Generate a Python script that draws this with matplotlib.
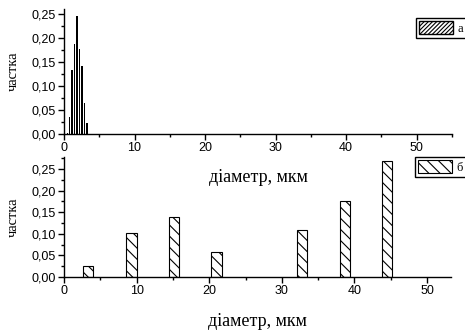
import matplotlib
matplotlib.use("Agg")
import matplotlib.pyplot as plt
from matplotlib.patches import Patch
from matplotlib.ticker import MultipleLocator, FuncFormatter

# розподіл частинок за діаметром
d_a = [0.45, 0.8, 1.15, 1.5, 1.85, 2.2, 2.55, 2.9, 3.25]
p_a = [0.003, 0.036, 0.133, 0.188, 0.246, 0.176, 0.141, 0.064, 0.023]

d_b = [3.3, 9.3, 15.2, 21.0, 32.8, 38.7, 44.5]
p_b = [0.025, 0.103, 0.139, 0.057, 0.108, 0.176, 0.268]

xlabel = "діаметр, мкм"
ylabel = "частка"

plt.rcParams['hatch.linewidth'] = 0.8
serif = "Liberation Serif"
sans = "Liberation Sans"

W, H = 465, 332
fig = plt.figure(figsize=(W / 100, H / 100), dpi=100)

comma = FuncFormatter(lambda v, pos: f"{v:.2f}".replace(".", ","))


def style(ax):
    ax.set_facecolor("none")
    for s in ("top", "right"):
        ax.spines[s].set_visible(False)
    for s in ("left", "bottom"):
        ax.spines[s].set_linewidth(1.0)
    ax.xaxis.set_major_locator(MultipleLocator(10))
    ax.xaxis.set_minor_locator(MultipleLocator(5))
    ax.yaxis.set_major_locator(MultipleLocator(0.05))
    ax.yaxis.set_minor_locator(MultipleLocator(0.025))
    ax.yaxis.set_major_formatter(comma)
    ax.tick_params(which="major", direction="out", length=4, width=1, pad=2)
    ax.tick_params(which="minor", direction="out", length=2.5, width=1)
    for lab in ax.get_xticklabels() + ax.get_yticklabels():
        lab.set_fontfamily(sans)
        lab.set_fontsize(9)


leg_kw = dict(loc="upper left", bbox_transform=fig.transFigure,
              borderaxespad=0, borderpad=0.25, handlelength=2.7,
              handleheight=1.2, handletextpad=0.35, fancybox=False,
              edgecolor="black", framealpha=1,
              prop={"family": serif, "size": 9})

# верхній графік (а)
ax1 = fig.add_axes([64 / W, 1 - 134 / H, 388 / W, 125 / H])
ax1.bar(d_a, p_a, width=0.19, color="black", linewidth=0)
ax1.set_xlim(0, 55)
ax1.set_ylim(0, 0.26)
style(ax1)
ax1.set_xlabel(xlabel, fontfamily=serif, fontsize=13)
ax1.xaxis.set_label_coords(0.5, -0.28)
ax1.set_ylabel(ylabel, fontfamily=serif, fontsize=10.5)
ax1.yaxis.set_label_coords(-0.115, 0.5)
h_a = Patch(facecolor="white", edgecolor="black", hatch="////////", label="а")
ax1.legend(handles=[h_a], bbox_to_anchor=(416 / W, 1 - 18 / H), **leg_kw)

# нижній графік (б)
ax2 = fig.add_axes([64 / W, 1 - 277 / H, 387 / W, 120 / H])
ax2.bar(d_b, p_b, width=1.4, color="white", edgecolor="black",
        linewidth=0.8, hatch="\\\\\\", label="б")
ax2.set_xlim(0, 53.3)
ax2.set_ylim(0, 0.278)
style(ax2)
ax2.set_xlabel(xlabel, fontfamily=serif, fontsize=13)
ax2.xaxis.set_label_coords(0.5, -0.3)
ax2.set_ylabel(ylabel, fontfamily=serif, fontsize=10.5)
ax2.yaxis.set_label_coords(-0.115, 0.5)
ax2.legend(bbox_to_anchor=(415 / W, 1 - 157 / H), **leg_kw)

fig.savefig("out.png", dpi=100)
